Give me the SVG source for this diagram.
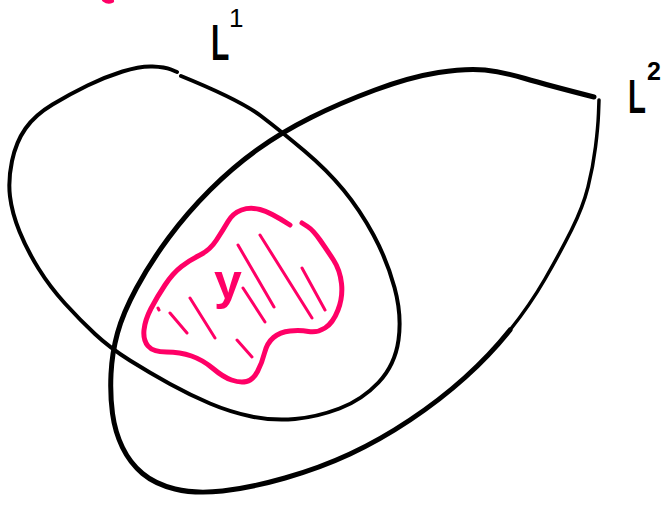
<svg xmlns="http://www.w3.org/2000/svg" width="664" height="505" viewBox="0 0 664 505">
<style>
.ink{fill:none;stroke:#000;stroke-linecap:round;stroke-linejoin:round}
.pink{fill:none;stroke:#ff0066;stroke-linecap:round;stroke-linejoin:round}
.hatch{fill:none;stroke:#ff0066;stroke-width:3;stroke-linecap:round}
.big{font-family:"Liberation Sans",Arial,sans-serif;font-weight:bold;fill:#000}
</style>
<rect width="664" height="505" fill="#fff"/>
<g id="pink-mark"><path class="pink" stroke-width="4" d="M104,0 Q108,3 112,1"/></g>
<g id="connectors">
<g id="L1">
<path class="ink" stroke-width="4" d="M181,76 Q240,100 261,116 Q282,132 304.5,151 Q327,170 343.5,190 Q360,210 373.5,235 Q387,260 394.5,287.5 Q402,315 398.5,340 Q395,365 378.5,382.5 Q362,400 339.5,408.5 Q317,417 295,419 Q273,421 251.5,416.5 Q230,412 210,403.5 Q190,395 170,384 Q150,373 130,360.5 Q110,348 95,334 Q80,320 65,303.5 Q50,287 38.5,268.5 Q27,250 19.5,231.5 Q12,213 10,196.5 Q8,180 12,161 Q16,142 25.5,128.5 Q35,115 52.5,104.5 Q70,94 87.5,85.5 Q105,77 122.5,71.5 Q140,66 152.5,66.5 Q165,67 171,69.5 L177,72"/>
</g>
<g id="L2">
<path class="ink" stroke-width="5" d="M594,97 Q547,85 525,78.5 Q503,72 485,70 Q467,68 438.5,72.5 Q410,77 375,90 Q340,103 311,117.5 Q282,132 257.5,149.5 Q233,167 210,190 Q187,213 168.5,238 Q150,263 136.5,288 Q123,313 117.5,333 Q112,353 111,374 Q110,395 112.5,413.5 Q115,432 122.5,447.5 Q130,463 142.5,473.5 Q155,484 175,489 Q195,494 222.5,491 Q250,488 285,478 Q320,468 350,454 Q380,440 410,420 Q440,400 465,377.5 Q490,355 510,330"/>
<path class="ink" stroke-width="3.5" d="M510,330 Q530,305 545,279 Q560,253 571.5,230 Q583,207 588,187 Q593,167 595.5,147 Q598,127 598.5,113.5 L599,100"/>
</g>
</g>
<g id="Y">
<path class="pink" stroke-width="5" d="M290,225 Q270,212 260,209.5 Q250,207 241.5,210 Q233,213 228,221.5 Q223,230 216.5,240 Q210,250 200,255 Q190,260 181.5,266.5 Q173,273 165,285 Q157,297 151,308.5 Q145,320 144,330 Q143,340 148,346 Q153,352 166.5,352 Q180,352 191.5,356 Q203,360 213,368.5 Q223,377 231.5,380 Q240,383 246.5,381.5 Q253,380 257.5,371.5 Q262,363 264.5,353 Q267,343 273.5,337.5 Q280,332 290,331 Q300,330 308.5,331.5 Q317,333 325,328 Q333,323 338,310 Q343,297 341.5,283.5 Q340,270 333.5,260 Q327,250 320,240 Q313,230 307.5,226.5 L302,223"/>
<path class="hatch" d="M158,308 L159,310 M170,313 L187,333 M190,298 L215,338 M237,340 L252,357 M243,288 L265,322 M238,245 L274,307 M260,235 L312,318 M302,268 L325,310"/>
<text x="228" y="299" text-anchor="middle" font-family="Liberation Sans, Arial, sans-serif" font-weight="bold" font-size="50" fill="#ff0066">y</text>
</g>
<g id="label-L1">
<text class="big" font-size="50" transform="translate(211,60) scale(0.6,1)">L</text>
<text x="229" y="27" font-family="Liberation Sans, Arial, sans-serif" font-size="26" fill="#000">1</text>
</g>
<g id="label-L2">
<text class="big" font-size="49" transform="translate(628,113) scale(0.6,1)">L</text>
<text class="big" x="647" y="80" font-size="25">2</text>
</g>
</svg>
